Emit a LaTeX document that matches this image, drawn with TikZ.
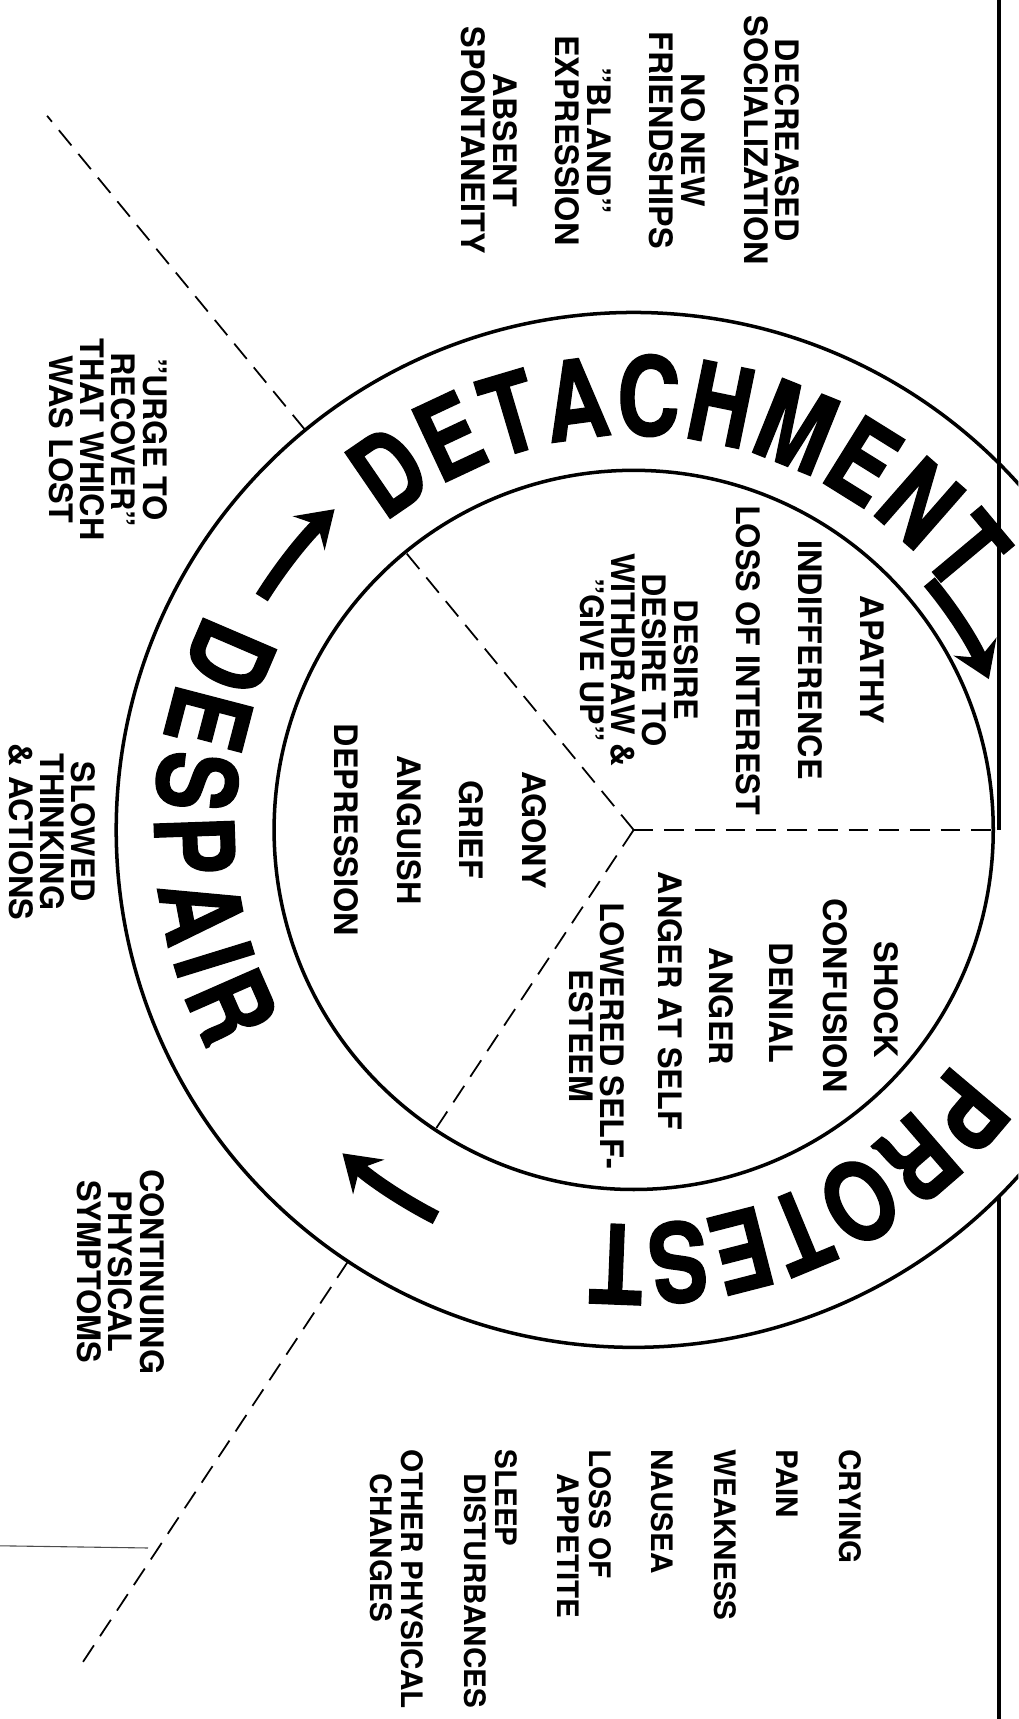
\documentclass[tikz,border=0pt]{standalone}
\usepackage{fontspec}
\setmainfont{TeX Gyre Heros}
\newfontfamily\ringfam[Extension=.otf, UprightFont=*-bold, FakeStretch=0.8, FakeBold=1.2]{texgyreheros}
\usetikzlibrary{decorations.text,arrows.meta}
\newcommand\lblfont{\fontsize{29.5}{28.6}\selectfont\bfseries}
\newcommand\listfont{\fontsize{27}{28.5}\selectfont\bfseries}
\newcommand\ringfont{\ringfam\fontsize{100}{100}\selectfont}

\tikzset{
  lbl/.style={rotate=-90, font=\lblfont, align=center, inner sep=0pt},
  ring/.style={line width=3.2pt},
  frame/.style={line width=3.5pt},
  sector/.style={line width=1.6pt, dash pattern=on 18pt off 10pt},
  phase/.style={decorate, decoration={text along path, text align={fit to path}, text={|\ringfont|#1}}},
  cycle arrow/.style={line width=13pt, -{Stealth[length=32pt,width=42pt,inset=11pt]}}
}

\begin{document}
\begin{tikzpicture}[x=1pt,y=-1pt]
\useasboundingbox (0,0) rectangle (929,1568);
\clip (0,0) rectangle (929,1568);
\coordinate (ctr) at (578,757);

\draw[frame] (911,0) -- (911,757);
\draw[frame] (911,1092) -- (911,1568);
\draw[line width=1pt, black!70] (0,1410) -- (135,1412);

\begin{scope}[shift={(ctr)}]
  \draw[ring] (0,0) circle[radius=328];
  \draw[ring] (0,0) circle[radius=472];
  % sector borders
  \draw[sector] (0,0) -- (328,0);
  \draw[sector] (0,0) -- (-129.4:328);
  \draw[sector] (0,0) -- (123.5:328);
  \draw[sector] (-129.4:472) -- (-129.4:843);
  \draw[sector] (123.5:472) -- (123.5:910);
  % phase names
  \path[phase=DETACHMENT] (-129:360) arc[start angle=-129, end angle=-36, radius=360];
  \path[phase=DESPAIR] (207:437) arc[start angle=207, end angle=152.5, radius=437];
  \path[phase=PROTEST] (36:360) arc[start angle=36, end angle=95.5, radius=360];
  % cycle
  \draw[cycle arrow] (-40:352) arc[start angle=-40, end angle=-23, radius=352];
  \draw[cycle arrow] (212:400) arc[start angle=212, end angle=227, radius=400];
  \draw[cycle arrow] (117:397) arc[start angle=117, end angle=132, radius=397];
\end{scope}

\node[lbl] (detach-out) at (575,128) {DECREASED\\SOCIALIZATION\\[28.6pt]NO NEW\\FRIENDSHIPS\\[28.6pt]"BLAND"\\EXPRESSION\\[28.6pt]ABSENT\\SPONTANEITY};
\node[lbl] (detach-in) at (667.5,602) {APATHY\\[28pt]INDIFFERENCE\\[28pt]LOSS OF INTEREST\\[28pt]DESIRE\\DESIRE TO\\WITHDRAW \&\\"GIVE UP"};
\node[lbl] (despair-in) at (401.5,757) {AGONY\\[28.4pt]GRIEF\\[28.4pt]ANGUISH\\[28.4pt]DEPRESSION};
\foreach \x/\y/\t [count=\i] in {808/912/SHOCK, 762/908/CONFUSION, 713/915/DENIAL, 658/918/ANGER, 611/913/ANGER AT SELF, 544.5/945/{LOWERED SELF-\\ESTEEM}}
  \node[lbl] (protest-in-\i) at (\x,\y) {\t};

\node[lbl] (urge) at (98.5,401) {"URGE TO\\RECOVER"\\THAT WHICH\\WAS LOST};
\node[lbl] (slowed) at (47.5,759) {SLOWED\\THINKING\\\& ACTIONS};
\node[lbl] (continuing) at (110,1160) {CONTINUING\\PHYSICAL\\SYMPTOMS};
\node[lbl, font=\listfont, align=left, anchor=west] (protest-out) at (561.5,1322) {CRYING\\[28.5pt]PAIN\\[28.5pt]WEAKNESS\\[28.5pt]NAUSEA\\[28.5pt]LOSS OF\\\hspace*{22pt}APPETITE\\[28.5pt]SLEEP\\\hspace*{22pt}DISTURBANCES\\[28.5pt]OTHER PHYSICAL\\\hspace*{22pt}CHANGES};
\end{tikzpicture}
\end{document}
